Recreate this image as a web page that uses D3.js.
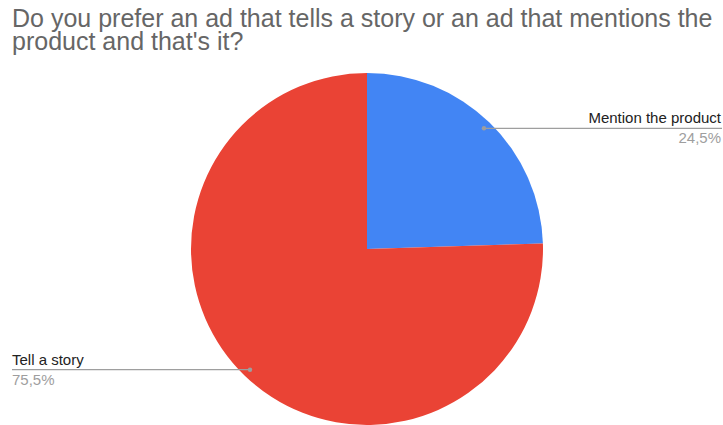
<!DOCTYPE html>
<html>
<head>
<meta charset="utf-8">
<script src="https://cdn.jsdelivr.net/npm/d3@7"></script>
<style>
  html, body { margin: 0; padding: 0; background: #fff; }
  svg { display: block; font-family: "Liberation Sans", Arial, sans-serif; }
</style>
</head>
<body>
<svg id="chart" width="723" height="425"></svg>
<script>
// Survey answers and their shares (percent)
const categories = ["Mention the product", "Tell a story"];
const shares = [24.5, 75.5];
const shareLabels = ["24,5%", "75,5%"];
const colors = ["#4285f4", "#ea4335"];
const titleLines = [
  "Do you prefer an ad that tells a story or an ad that mentions the",
  "product and that's it?"
];

const W = 723, H = 425;
const svg = d3.select("#chart");

// Title
svg.append("g").selectAll("text")
  .data(titleLines)
  .join("text")
  .attr("x", 12)
  .attr("y", (d, i) => 27 + i * 22.5)
  .attr("fill", "#666")
  .attr("font-size", 25)
  .text(d => d);

// Pie
const cx = 367, cy = 249, r = 176;
const data = categories.map((c, i) => ({ name: c, value: shares[i], label: shareLabels[i], color: colors[i] }));
const pie = d3.pie().value(d => d.value).sort(null);
const arcs = pie(data);
const arc = d3.arc().innerRadius(0).outerRadius(r);
const dotArc = d3.arc().innerRadius(r * 0.955).outerRadius(r * 0.955);

const g = svg.append("g").attr("transform", `translate(${cx},${cy})`);
g.selectAll("path")
  .data(arcs)
  .join("path")
  .attr("d", arc)
  .attr("fill", d => d.data.color);

// Leader lines and labels
arcs.forEach(a => {
  const [dx, dy] = dotArc.centroid(a);
  const px = cx + dx, py = cy + dy;
  const right = px > cx;
  const endX = right ? W - 1 : 12;
  svg.append("line")
    .attr("x1", px).attr("y1", py)
    .attr("x2", endX).attr("y2", py)
    .attr("stroke", "#9e9e9e").attr("stroke-width", 1.3);
  svg.append("circle")
    .attr("cx", px).attr("cy", py).attr("r", 2.2)
    .attr("fill", "#9e9e9e");
  const tx = right ? W - 2 : 12;
  const anchor = right ? "end" : "start";
  svg.append("text")
    .attr("x", tx).attr("y", py - 5)
    .attr("text-anchor", anchor)
    .attr("font-size", 15)
    .attr("fill", "#222")
    .text(a.data.name);
  svg.append("text")
    .attr("x", tx).attr("y", py + 15)
    .attr("text-anchor", anchor)
    .attr("font-size", 15)
    .attr("fill", "#9e9e9e")
    .text(a.data.label);
});
</script>
</body>
</html>
